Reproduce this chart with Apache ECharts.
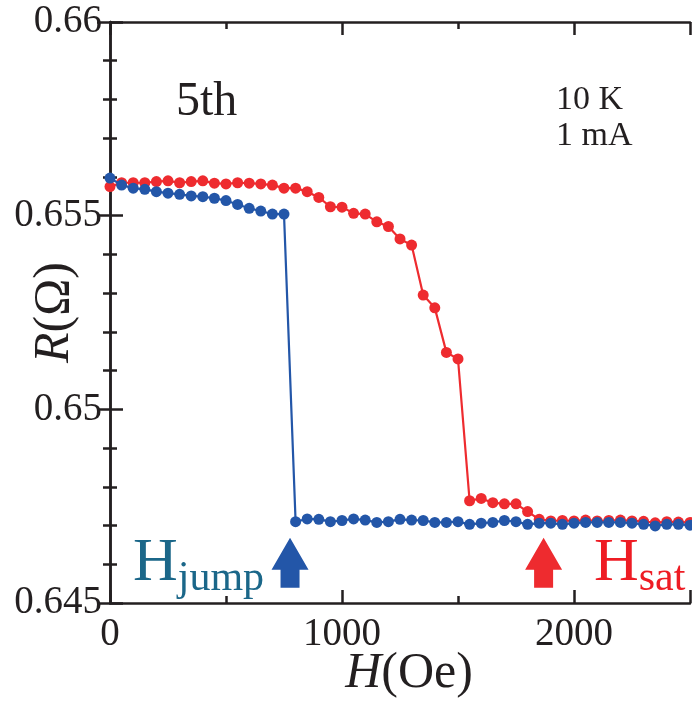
<!DOCTYPE html>
<html><head><meta charset="utf-8">
<script src="https://cdn.jsdelivr.net/npm/echarts@6/dist/echarts.min.js"></script>
<style>html,body{margin:0;padding:0;background:#fff}#c{width:692px;height:702px}</style>
</head><body><div id="c"></div>
<script>
// Field (Oe)
const fieldRed = [0,50,100,150,200,250,300,350,400,450,500,550,600,650,700,750,800,850,900,950,1000,1050,1100,1150,1200,1250,1300,1350,1400,1450,1500,1550,1600,1650,1700,1750,1800,1850,1900,1950,2000,2050,2100,2150,2200,2250,2300,2350,2400,2450,2500];
const resRed = [0.65575,0.65585,0.65585,0.65585,0.65588,0.65590,0.65585,0.65588,0.65590,0.65584,0.65582,0.65585,0.65584,0.65582,0.65579,0.65571,0.65571,0.65562,0.65547,0.65523,0.65522,0.65506,0.65504,0.65484,0.65472,0.65440,0.65424,0.65295,0.65262,0.65147,0.65130,0.64764,0.64770,0.64759,0.64756,0.64756,0.64736,0.64716,0.64712,0.64713,0.64712,0.64714,0.64712,0.64713,0.64714,0.64712,0.64711,0.64707,0.64710,0.64709,0.64708];
const fieldBlue = [0,50,100,150,200,250,300,350,400,450,500,550,600,650,700,750,800,850,900,950,1000,1050,1100,1150,1200,1250,1300,1350,1400,1450,1500,1550,1600,1650,1700,1750,1800,1850,1900,1950,2000,2050,2100,2150,2200,2250,2300,2350,2400,2450,2500];
const resBlue = [0.65597,0.65579,0.65571,0.65568,0.65562,0.65558,0.65555,0.65551,0.65549,0.65545,0.65539,0.65529,0.65519,0.65512,0.65504,0.65504,0.64710,0.64717,0.64716,0.64710,0.64713,0.64717,0.64714,0.64708,0.64710,0.64716,0.64714,0.64713,0.64708,0.64708,0.64710,0.64703,0.64706,0.64708,0.64713,0.64710,0.64703,0.64706,0.64706,0.64703,0.64706,0.64708,0.64708,0.64708,0.64708,0.64706,0.64703,0.64699,0.64703,0.64703,0.64701];
// Arrow annotations [field, resistance]
const arrowJump = [776, 0.64604];
const arrowSat = [1869, 0.64604];
const xTicks = [0, 2500, 1000];
const yTicks = [0.645, 0.66, 0.005];

const RED = '#ee2b2f', BLUE = '#2356a8', AX = '#231f20';
const FONT = '"Liberation Serif","DejaVu Serif",serif';
const arrowPath = 'path://M18.5,0 L37,32 L28,32 L28,50 L9,50 L9,32 L0,32 Z';

const chart = echarts.init(document.getElementById('c'));
const axLine = {show:true, lineStyle:{color:AX, width:2.5}};
const xBase = {type:'value', min:xTicks[0], max:xTicks[1], interval:xTicks[2], splitLine:{show:false}, axisLine:axLine,
  axisTick:{inside:true, length:13, lineStyle:{color:AX,width:2.5}},
  minorTick:{show:true, splitNumber:2, length:7, lineStyle:{color:AX,width:2.5}}};
const yBase = {type:'value', min:yTicks[0], max:yTicks[1], interval:yTicks[2], splitLine:{show:false}, axisLine:axLine,
  axisTick:{inside:true, length:13, lineStyle:{color:AX,width:2.5}},
  minorTick:{show:true, splitNumber:5, length:7, lineStyle:{color:AX,width:2.5}}};
chart.setOption({
  animation:false,
  grid:{left:110, right:2, top:22, bottom:99, containLabel:false, outerBoundsMode:'none'},
  xAxis:[
    Object.assign({}, xBase, {position:'bottom',
      axisLabel:{margin:12, fontFamily:FONT, fontSize:39, color:AX, showMaxLabel:false,
        formatter:v => (v % 1000 === 0 ? String(v) : '')},
      name:'{i|H}(Oe)', nameLocation:'middle', nameGap:46, nameMoveOverlap:false,
      nameTextStyle:{fontFamily:FONT, fontSize:50, color:AX, padding:[0,0,0,18],
        rich:{i:{fontFamily:FONT, fontSize:50, fontStyle:'italic', color:AX}}}}),
    Object.assign({}, xBase, {position:'top', axisLabel:{show:false}})
  ],
  yAxis:[
    Object.assign({}, yBase, {position:'left',
      axisLabel:{margin:8, fontFamily:FONT, fontSize:39, color:AX, formatter:v => String(+v.toFixed(3))},
      name:'{i|R}(Ω)', nameLocation:'middle', nameGap:30, nameMoveOverlap:false,
      nameTextStyle:{fontFamily:FONT, fontSize:50, color:AX, rich:{i:{fontFamily:FONT, fontSize:50, fontStyle:'italic', color:AX}}}}),
    Object.assign({}, yBase, {position:'right', axisLabel:{show:false}})
  ],
  series:[
    {type:'line', name:'up', data:fieldRed.map((x,i)=>[x,resRed[i]]), symbol:'circle', symbolSize:11,
      lineStyle:{color:RED, width:2.2}, itemStyle:{color:RED}, z:2,
      markPoint:{symbol:arrowPath, symbolSize:[37,50], symbolKeepAspect:false, itemStyle:{color:RED}, label:{show:false},
        data:[{coord:arrowSat}]}},
    {type:'line', name:'down', data:fieldBlue.map((x,i)=>[x,resBlue[i]]), symbol:'circle', symbolSize:11,
      lineStyle:{color:BLUE, width:2.2}, itemStyle:{color:BLUE}, z:3,
      markPoint:{symbol:arrowPath, symbolSize:[37,50], symbolKeepAspect:false, itemStyle:{color:BLUE}, label:{show:false},
        data:[{coord:arrowJump}]}}
  ],
  graphic:[
    {type:'text', left:176, top:78, style:{text:'5th', fontFamily:FONT, fontSize:48, fill:AX}},
    {type:'text', left:556, top:82, style:{text:'10 K\n1 mA', fontFamily:FONT, fontSize:34, lineHeight:36, fill:AX}},
    {type:'text', left:133, top:533, style:{text:'{h|H}{s|jump}', rich:{
      h:{fontFamily:FONT, fontSize:62, fill:'#1b6789', color:'#1b6789'},
      s:{fontFamily:FONT, fontSize:42, fill:'#1b6789', color:'#1b6789', padding:[30,0,0,0]}}}},
    {type:'text', left:594, top:533, style:{text:'{h|H}{s|sat}', rich:{
      h:{fontFamily:FONT, fontSize:62, fill:'#ee1c24', color:'#ee1c24'},
      s:{fontFamily:FONT, fontSize:42, fill:'#ee1c24', color:'#ee1c24', padding:[30,0,0,0]}}}}
  ]
});
</script></body></html>
